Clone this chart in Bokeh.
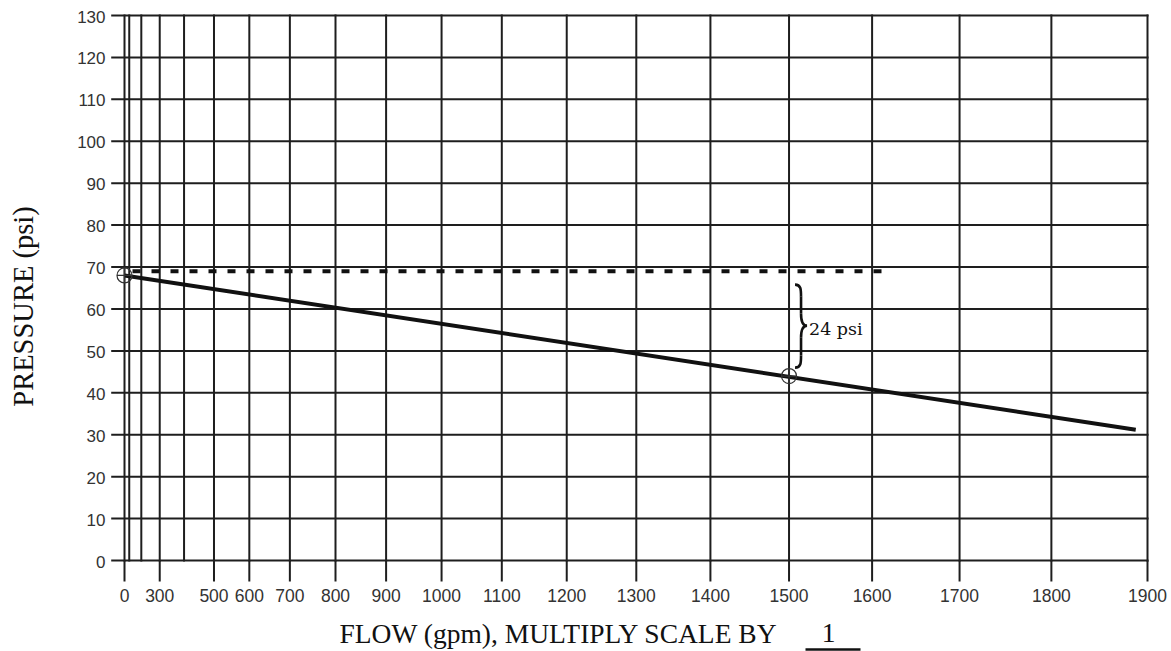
import numpy as np
from bokeh.plotting import figure
from bokeh.models import Range1d
from bokeh.core.properties import value
from bokeh.embed import file_html
from bokeh.resources import INLINE

# ---------------- data ----------------
EXP = 1.825                      # hydraulic (N^1.85-style) flow scale exponent
PRESSURE_TICKS = [0, 10, 20, 30, 40, 50, 60, 70, 80, 90, 100, 110, 120, 130]
FLOW_GRID = [0, 100, 200, 300, 400, 500, 600, 700, 800, 900, 1000, 1100, 1200,
             1300, 1400, 1500, 1600, 1700, 1800, 1900]
FLOW_LABELED = [0, 300, 500, 600, 700, 800, 900, 1000, 1100, 1200, 1300, 1400,
                1500, 1600, 1700, 1800, 1900]
SUPPLY_FLOW = [0, 1888]
SUPPLY_PRESSURE = [68, 31.2]
TEST_FLOW = [0, 1500]
TEST_PRESSURE = [68, 44]
DEMAND_FLOW = [0, 1620]
DEMAND_PRESSURE = [69, 69]
BRACE_FLOW = 1500
BRACE_TOP, BRACE_MID, BRACE_BOTTOM = 65.8, 56.0, 46.0
DROP_TEXT = "24 psi"
DROP_TEXT_PRESSURE = 55.3
X_TITLE = "FLOW (gpm), MULTIPLY SCALE BY"
MULTIPLIER = "1"
Y_TITLE = "PRESSURE (psi)"


def fx(q):
    return np.asarray(q, dtype=float) ** EXP


# ---------------- layout (pixels of the picture) ----------------
W, H = 1171, 651
SX_ZERO, SX_END, SY_ZERO, SY_TOP = 124, 1147, 560, 15
XMAX = float(fx(1900))
kx = (SX_END - SX_ZERO) / XMAX            # px per x unit
ky = (SY_ZERO - SY_TOP) / 130.0            # px per psi


def dx(px):
    return px / kx


def dy(px):
    return px / ky


INK = "#1e1e1e"
TXT = "#111111"

p = figure(width=W, height=H,
           x_range=Range1d(-dx(SX_ZERO), dx(W - SX_ZERO)),
           y_range=Range1d(-dy(H - SY_ZERO), dy(SY_ZERO)),
           x_axis_location=None, y_axis_location=None,
           output_backend="svg", toolbar_location=None, min_border=0)
p.outline_line_color = None
p.grid.visible = False
p.background_fill_color = "white"
p.border_fill_color = "white"

nP = len(PRESSURE_TICKS)
# horizontal grid lines (extending left of the 0-flow line as ticks)
p.segment(x0=[-dx(12.3)] * nP, y0=PRESSURE_TICKS, x1=[XMAX] * nP, y1=PRESSURE_TICKS,
          line_color=INK, line_width=2, line_cap="square")
# vertical grid lines
gx = fx(FLOW_GRID)
p.segment(x0=gx, y0=[0] * len(gx), x1=gx, y1=[130] * len(gx),
          line_color=INK, line_width=2, line_cap="square")
# x tick marks below the 0-psi line
lx = fx(FLOW_LABELED)
p.segment(x0=lx, y0=[-dy(21)] * len(lx), x1=lx, y1=[0] * len(lx),
          line_color=INK, line_width=2)

# tick labels
p.text(x=[-dx(SX_ZERO - 105)] * nP, y=np.array(PRESSURE_TICKS) - dy(1),
       text=[str(t) for t in PRESSURE_TICKS], text_font=value("Liberation Sans"),
       text_font_size="17px", text_color="#333333", text_align="right",
       text_baseline="middle")
p.text(x=lx, y=[-dy(595 - SY_ZERO)] * len(lx),
       text=[str(q) for q in FLOW_LABELED],
       text_font=value("Liberation Sans"), text_font_size="17.5px",
       text_color="#333333", text_align="center", text_baseline="middle")

# axis titles
p.text(x=[-dx(SX_ZERO - 22.5)], y=[dy(SY_ZERO - 306)], text=[Y_TITLE], angle=np.pi / 2,
       text_font=value("Liberation Serif"), text_font_size="28.5px", text_color=TXT,
       text_align="center", text_baseline="middle")
p.text(x=[dx(339 - SX_ZERO)], y=[-dy(632.8 - SY_ZERO)], text=[X_TITLE],
       text_font=value("Liberation Serif"), text_font_size="27.5px", text_color=TXT,
       text_align="left", text_baseline="middle")
p.text(x=[dx(828 - SX_ZERO)], y=[-dy(632.8 - SY_ZERO)], text=[MULTIPLIER],
       text_font=value("Liberation Serif"), text_font_size="27.5px", text_color=TXT,
       text_align="center", text_baseline="middle")
p.segment(x0=[dx(805 - SX_ZERO)], y0=[-dy(649 - SY_ZERO)],
          x1=[dx(860 - SX_ZERO)], y1=[-dy(649 - SY_ZERO)],
          line_color=TXT, line_width=2.5)

# demand (dashed) line
p.line(fx(DEMAND_FLOW), DEMAND_PRESSURE, line_width=4, line_color=TXT,
       line_dash="8 11", line_dash_offset=11)
# water supply line
p.line(fx(SUPPLY_FLOW), SUPPLY_PRESSURE, line_width=4, line_color=TXT)
# test points
p.scatter(fx(TEST_FLOW), TEST_PRESSURE, marker="circle_cross", size=15,
          fill_color=None, line_color="#333333", line_width=1.2)

# curly brace next to the 1500 gpm point
xb = float(fx(BRACE_FLOW))
xe, xm, xt = xb + dx(6), xb + dx(12), xb + dx(18)
t, m, b = BRACE_TOP, BRACE_MID, BRACE_BOTTOM
d12, d5, d4 = dy(12), dy(5), dy(4)
p.bezier(x0=[xe, xm, xm, xe, xm, xm],
         y0=[t, t - d12, m + d12, b, b + d12, m - d12],
         x1=[xm, xm, xt, xm, xm, xt],
         y1=[t - d12, m + d12, m, b + d12, m - d12, m],
         cx0=[xm, xm, xm, xm, xm, xm],
         cy0=[t, t - d12, m + d4, b, b + d12, m - d4],
         cx1=[xm, xm, xm + dx(2), xm, xm, xm + dx(2)],
         cy1=[t - d5, m + d12, m, b + d5, m - d12, m],
         line_color=TXT, line_width=2.6)

p.text(x=[xb + dx(20)], y=[DROP_TEXT_PRESSURE], text=[DROP_TEXT],
       text_font=value("DejaVu Serif"), text_font_size="17.5px",
       text_baseline="middle", text_align="left", text_color=TXT)

open("out.html", "w").write(file_html(p, INLINE))
